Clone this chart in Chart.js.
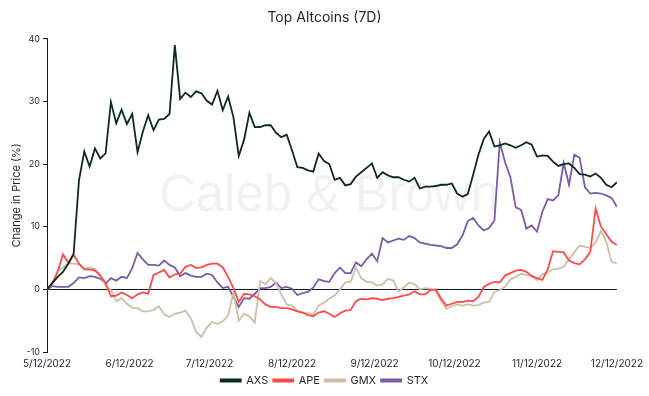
<!DOCTYPE html>
<html>
<head>
<meta charset="utf-8">
<script src="https://cdn.jsdelivr.net/npm/chart.js@4.4.0/dist/chart.umd.min.js"></script>
<style>
  html, body { margin: 0; padding: 0; background: #fff; }
  #wrap { width: 649px; height: 396px; position: relative; }
</style>
</head>
<body>
<div id="wrap"><canvas id="chart"></canvas></div>
<script>
// Dagar sedan 5/12/2022 (varannan dag)
var days = [];
for (var d = 0; d <= 214; d += 2) days.push(d);

// Månadsmarkeringar på x-axeln
var tickDays = [0, 31, 61, 92, 123, 153, 184, 214];
var tickLabels = ["5/12/2022", "6/12/2022", "7/12/2022", "8/12/2022", "9/12/2022", "10/12/2022", "11/12/2022", "12/12/2022"];

// Serier, förändring i pris (%)
var axs = [0, 1, 2, 2.8, 4.1, 5.7, 17.4, 22, 19.6, 22.5,
  20.9, 21.7, 29.9, 26.5, 28.7, 26.4, 28, 21.9, 25.2, 27.8,
  25.4, 27.1, 27.2, 28, 39, 30.4, 31.4, 30.7, 31.6, 31.3,
  30.1, 29.5, 31.7, 28.6, 30.8, 27.5, 21.3, 23.9, 28.2, 25.9,
  25.9, 26.2, 26.2, 25, 24.3, 24.7, 22.2, 19.5, 19.4, 19,
  18.8, 21.7, 20.5, 20, 17.5, 17.8, 16.6, 16.8, 18, 18.7,
  19.4, 20.1, 17.8, 18.7, 18.2, 17.9, 17.9, 17.5, 17.2, 17.8,
  16.1, 16.4, 16.4, 16.5, 16.7, 16.7, 16.9, 15.3, 14.8, 15.2,
  18.3, 21.5, 24, 25.2, 22.8, 23, 23.3, 23, 22.6, 23,
  23.5, 23.1, 21.2, 21.4, 21.3, 20.4, 19.7, 20, 20.1, 19.4,
  18.4, 18.3, 18, 18.5, 17.8, 16.7, 16.3, 17.1];
var ape = [0, 1, 2.8, 5.6, 4.2, 5.5, 4.1, 3.2, 3.2, 3,
  2.2, 1, -1.1, -1, -0.5, -0.9, -1.4, -0.8, -0.5, -0.7,
  2.3, 2.7, 3.1, 1.9, 2.4, 2.5, 3.6, 3.9, 3.4, 3.5,
  3.9, 4.1, 4.1, 3.5, 2, 0.2, -2, -0.7, -0.8, -1.1,
  -1.6, -2.4, -2.8, -2.8, -3, -3, -3.2, -3.5, -3.7, -4.1,
  -4.3, -3.7, -3.5, -3.9, -4.4, -3.8, -3.4, -3.3, -1.9, -1.5,
  -1.6, -1.4, -1.5, -1.7, -1.5, -1.4, -1.2, -1, -0.8, -0.3,
  -0.8, -0.8, -0.1, 0, -1.5, -2.6, -2.3, -2, -2, -1.8,
  -1.9, -1.2, 0.4, 0.9, 1.2, 1.1, 2.2, 2.6, 3, 3.1,
  2.8, 2.1, 1.8, 1.5, 3.2, 6.1, 6, 5.9, 4.6, 4.2,
  4, 4.8, 6, 12.9, 10, 8.8, 7.6, 7.1];
var gmx = [0, 0.8, 3, 3.5, 4.1, 4.1, 4, 3.3, 3.5, 3.3,
  2.2, 0.6, -0.1, -1.9, -1.4, -2.3, -2.9, -3, -3.5, -3.5,
  -3.3, -2.7, -4, -4.4, -3.9, -3.7, -3.4, -4.6, -6.8, -7.6,
  -6.1, -5.2, -5.5, -5.1, -4.2, -0.5, -5, -3.9, -4.3, -5.3,
  1.3, 0.8, 1.8, 1, -0.8, -2.4, -2.6, -3.4, -3.8, -3.8,
  -4, -2.6, -2.1, -1.5, -1, 0, 1.1, 1.2, 3.5, 1.8,
  1.2, 1.1, 0.6, 0.8, 1.7, 1.4, -0.3, 0.3, 1.1, 0.8,
  0, 0.2, 0.1, -0.3, -1.9, -3.1, -2.7, -2.4, -2.6, -2.4,
  -2.6, -2.5, -2.1, -2, -0.4, -0.1, 0.4, 1.6, 2, 2.5,
  2.3, 2.1, 1.5, 2.4, 2.7, 3.2, 3.3, 3.6, 4.8, 5.9,
  7, 6.8, 6.6, 7.5, 9.3, 7.6, 4.4, 4.1];
var stx = [0, 0.5, 0.4, 0.4, 0.4, 1, 1.9, 1.8, 2.1, 2,
  1.7, 0.9, 1.8, 1.4, 2, 1.8, 3.4, 5.8, 4.8, 3.9,
  3.9, 3.8, 4.6, 3.9, 3.5, 2.1, 2.6, 2.2, 2, 2,
  2.5, 2.3, 1.1, 0.2, 0.4, -1.2, -2.8, -1.4, -1.5, -0.7,
  0.2, 0.2, 0.4, 1.1, 0.2, 0.4, 0.1, -0.9, -0.6, -0.4,
  0.3, 1.6, 1.3, 1.2, 2.6, 3.5, 2.6, 2.6, 4.3, 3.7,
  4.8, 5.7, 4.5, 8.2, 7.5, 7.8, 8.1, 7.9, 8.5, 8.2,
  7.5, 7.3, 7.1, 7, 6.9, 6.6, 6.6, 7.2, 8.6, 10.9,
  11.4, 10.2, 9.4, 9.8, 11, 23.5, 20.3, 17.9, 13.1, 12.7,
  9.7, 10.2, 9.2, 12.4, 14.4, 14.2, 15, 20.2, 16.7, 21.5,
  21, 16.3, 15.3, 15.4, 15.3, 15, 14.6, 13.2];

var textColor = "#1c2230";
var axisColor = "#0f1b2d";
var fontFamily = "Inter, 'Noto Sans', sans-serif";

function points(values) {
    return values.map(function (v, i) { return { x: days[i], y: v }; });
}

function serie(label, values, colour) {
    return {
        label: label,
        data: points(values),
        borderColor: colour,
        backgroundColor: colour,
        borderWidth: 1.8,
        pointRadius: 0,
        tension: 0
    };
}

// Vattenstämpel bakom linjerna
var watermark = {
    id: "watermark",
    beforeDatasetsDraw: function (chart) {
        var a = chart.chartArea;
        var ctx = chart.ctx;
        ctx.save();
        ctx.font = "51px 'Liberation Sans', Arial, sans-serif";
        ctx.fillStyle = "#f2f2f2";
        ctx.textAlign = "center";
        ctx.textBaseline = "middle";
        ctx.fillText("Caleb & Brown", (a.left + a.right) / 2 - 3, (a.top + a.bottom) / 2 + 2);
        ctx.restore();
    }
};

new Chart(document.getElementById("chart").getContext("2d"), {
    type: "line",
    data: {
        datasets: [
            serie("AXS", axs, "#0b2b1c"),
            serie("APE", ape, "#ff4a4a"),
            serie("GMX", gmx, "#cbbfaa"),
            serie("STX", stx, "#7a5ba6")
        ]
    },
    plugins: [watermark],
    options: {
        responsive: true,
        maintainAspectRatio: false,
        animation: false,
        layout: { padding: { left: 8, right: 8, top: 5, bottom: 0 } },
        plugins: {
            title: {
                display: true,
                text: "Top Altcoins (7D)",
                color: textColor,
                font: { family: fontFamily, size: 14, weight: "normal" },
                padding: { top: 4, bottom: 13 }
            },
            legend: {
                position: "bottom",
                labels: {
                    boxWidth: 20,
                    boxHeight: 2,
                    padding: 5,
                    color: textColor,
                    font: { family: fontFamily, size: 11 }
                }
            },
            tooltip: { enabled: false }
        },
        scales: {
            x: {
                type: "linear",
                min: 0,
                max: 214,
                afterBuildTicks: function (scale) {
                    scale.ticks = tickDays.map(function (v) { return { value: v }; });
                },
                afterFit: function (scale) { scale.height = 18; },
                ticks: {
                    autoSkip: false,
                    maxRotation: 0,
                    padding: 6,
                    color: textColor,
                    font: { family: fontFamily, size: 10 },
                    callback: function (v) { return tickLabels[tickDays.indexOf(v)]; }
                },
                grid: { display: false, drawTicks: false },
                border: { display: false }
            },
            y: {
                min: -10,
                max: 40,
                afterFit: function (scale) { scale.width = 39; },
                ticks: {
                    stepSize: 10,
                    padding: 3,
                    color: textColor,
                    font: { family: fontFamily, size: 9 }
                },
                grid: {
                    color: function (c) { return c.tick && c.tick.value === 0 ? axisColor : "rgba(0,0,0,0)"; },
                    tickColor: axisColor,
                    tickLength: 4,
                    lineWidth: 1
                },
                border: { color: axisColor, width: 1 },
                title: {
                    display: true,
                    text: "Change in Price (%)",
                    color: textColor,
                    font: { family: fontFamily, size: 11 },
                    padding: { top: 2, bottom: 2 }
                }
            }
        }
    }
});
</script>
</body>
</html>
